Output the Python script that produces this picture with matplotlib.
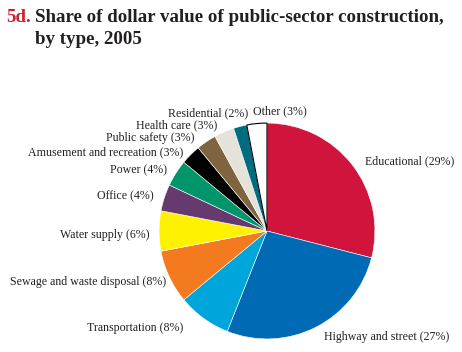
import matplotlib
matplotlib.use("Agg")
import matplotlib.pyplot as plt

plt.rcParams["font.family"] = ["Liberation Serif", "DejaVu Serif"]

categories = [
    "Educational", "Highway and street", "Transportation",
    "Sewage and waste disposal", "Water supply", "Office", "Power",
    "Amusement and recreation", "Public safety", "Health care",
    "Residential", "Other",
]
shares = [29, 27, 8, 8, 6, 4, 4, 3, 3, 3, 2, 3]
colors = [
    "#D0143C", "#006AB5", "#00A5DB", "#F47A20", "#FFF200", "#663A6E",
    "#00956A", "#000000", "#7F6440", "#E4E2D9", "#006C80", "#FFFFFF",
]

# label anchor points in pixels (x, y from top, ha)
label_pos = [
    (365, 161, "left"), (324, 337, "left"), (183, 328, "right"),
    (166, 282, "right"), (150, 235, "right"), (154, 196, "right"),
    (167, 170, "right"), (183, 152, "right"), (195, 138, "right"),
    (217, 125, "right"), (248, 113, "right"), (253, 111, "left"),
]

W, H = 462, 352
fig = plt.figure(figsize=(W / 100, H / 100), dpi=100)

cx, cy, r = 267, 231, 109
ax = fig.add_axes([(cx - r) / W, (H - cy - r) / H, 2 * r / W, 2 * r / H])
wedges, _ = ax.pie(shares, colors=colors, startangle=90, counterclock=False,
                   radius=1, wedgeprops=dict(edgecolor="white", linewidth=0.4))
wedges[-1].set_edgecolor("black")
wedges[-1].set_linewidth(0.8)
ax.set_xlim(-1.01, 1.01)
ax.set_ylim(-1.01, 1.01)
ax.set_aspect("equal")

for name, val, (x, y, ha) in zip(categories, shares, label_pos):
    fig.text(x / W, 1 - y / H, f"{name} ({val}%)", ha=ha, va="center",
             fontsize=8.6, color="#231F20")

fig.text(6 / W, 1 - 22 / H, "5d.", color="#D0202E", fontsize=13.6,
         fontweight="bold", va="baseline")
fig.text(35 / W, 1 - 22 / H, "Share of dollar value of public-sector construction,",
         color="#231F20", fontsize=13.6, fontweight="bold", va="baseline")
fig.text(35 / W, 1 - 44 / H, "by type, 2005",
         color="#231F20", fontsize=13.6, fontweight="bold", va="baseline")

fig.savefig("out.png", dpi=100)
